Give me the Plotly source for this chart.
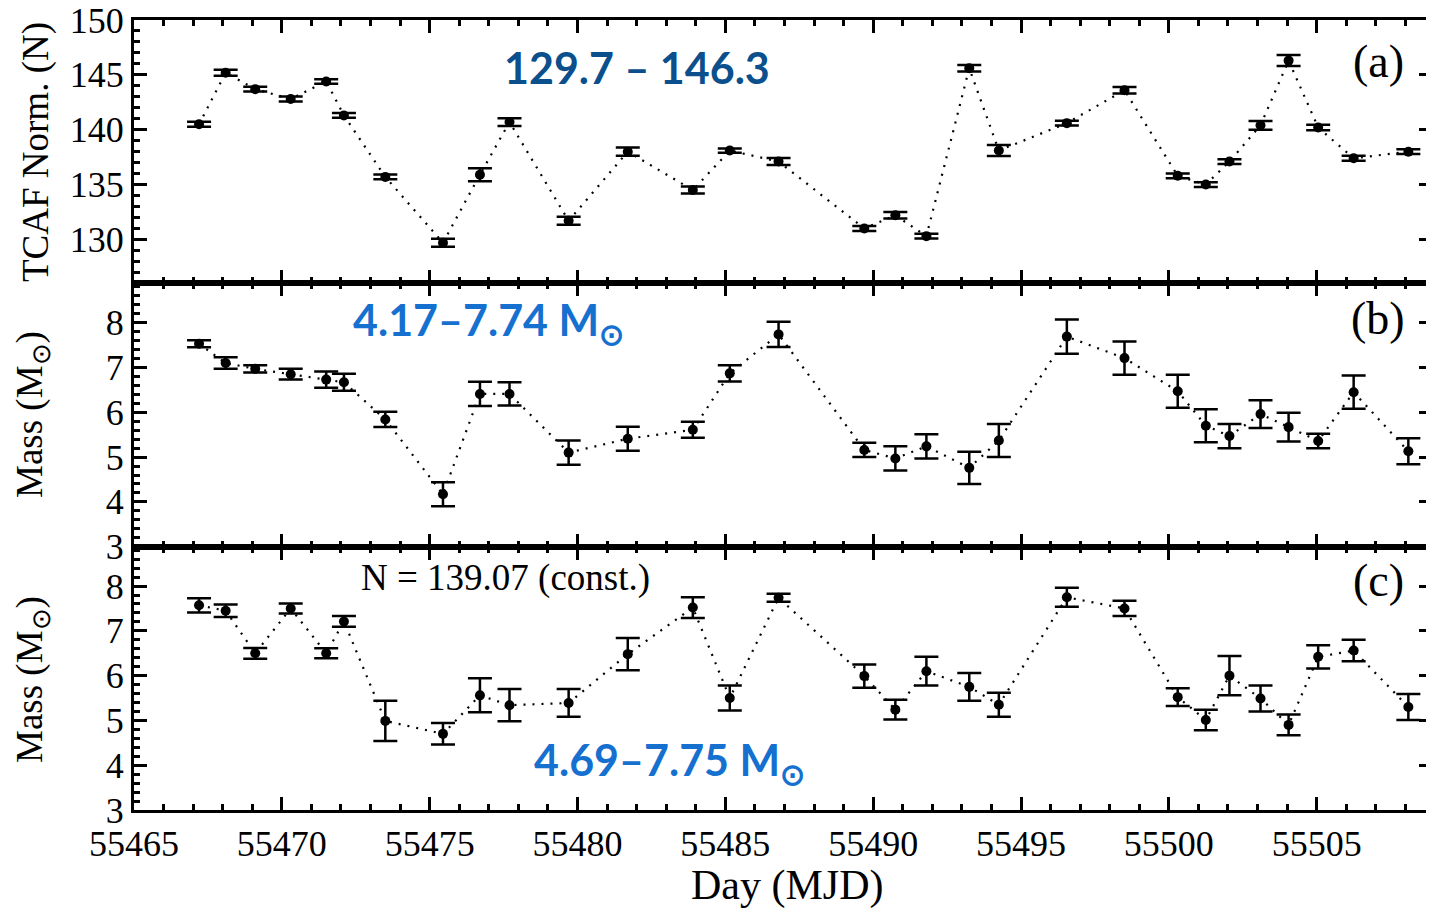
import plotly.graph_objects as go
from plotly.subplots import make_subplots

# ---------------- data ----------------
days = [55467.2, 55468.1, 55469.1, 55470.3, 55471.5, 55472.1, 55473.5, 55475.45,
        55476.7, 55477.7, 55479.7, 55481.7, 55483.9, 55485.15, 55486.8, 55489.7,
        55490.75, 55491.8, 55493.25, 55494.25, 55496.55, 55498.5, 55500.3, 55501.25,
        55502.05, 55503.1, 55504.05, 55505.05, 55506.25, 55508.1]

tcaf_norm = [140.5, 145.2, 143.7, 142.8, 144.4, 141.3, 135.7, 129.7, 135.9, 140.7,
             131.7, 138.0, 134.5, 138.1, 137.1, 131.0, 132.2, 130.3, 145.6, 138.1,
             140.6, 143.6, 135.8, 135.0, 137.1, 140.4, 146.3, 140.2, 137.4, 138.0]
tcaf_norm_err = [0.22, 0.27, 0.22, 0.22, 0.2, 0.22, 0.22, 0.37, 0.6, 0.35,
                 0.37, 0.37, 0.32, 0.2, 0.32, 0.22, 0.3, 0.22, 0.3, 0.5,
                 0.22, 0.3, 0.22, 0.22, 0.22, 0.4, 0.5, 0.25, 0.22, 0.22]

mass_var_n = [7.53, 7.10, 6.97, 6.85, 6.73, 6.67, 5.84, 4.17, 6.41, 6.41,
              5.10, 5.41, 5.61, 6.87, 7.74, 5.16, 4.97, 5.24, 4.76, 5.37,
              7.69, 7.21, 6.47, 5.70, 5.47, 5.96, 5.67, 5.36, 6.45, 5.13]
mass_var_n_err = [0.08, 0.13, 0.08, 0.12, 0.18, 0.19, 0.17, 0.27, 0.27, 0.26,
                  0.27, 0.27, 0.18, 0.18, 0.28, 0.16, 0.27, 0.27, 0.36, 0.37,
                  0.38, 0.37, 0.37, 0.37, 0.27, 0.31, 0.32, 0.16, 0.37, 0.29]

mass_const_n = [7.57, 7.45, 6.50, 7.50, 6.50, 7.21, 4.99, 4.70, 5.56, 5.34,
                5.39, 6.48, 7.52, 5.50, 7.74, 5.99, 5.24, 6.10, 5.75, 5.35,
                7.75, 7.50, 5.52, 5.01, 6.00, 5.49, 4.90, 6.42, 6.56, 5.30]
mass_const_n_err = [0.16, 0.14, 0.12, 0.11, 0.11, 0.12, 0.45, 0.24, 0.38, 0.36,
                    0.31, 0.36, 0.23, 0.28, 0.09, 0.26, 0.22, 0.32, 0.31, 0.27,
                    0.21, 0.17, 0.2, 0.23, 0.44, 0.29, 0.23, 0.26, 0.24, 0.29]

x_range = [55465, 55508.9]
serif = "Liberation Serif"
sans = "Lato"

fig = make_subplots(rows=3, cols=1, shared_xaxes=True, vertical_spacing=0)

series = [(tcaf_norm, tcaf_norm_err), (mass_var_n, mass_var_n_err),
          (mass_const_n, mass_const_n_err)]
for row, (vals, errs) in enumerate(series, start=1):
    fig.add_trace(go.Scatter(
        x=days, y=vals, mode="lines+markers",
        line=dict(color="black", width=2.2, dash="2px,7px"),
        marker=dict(color="black", size=10),
        error_y=dict(type="data", array=errs, visible=True, color="black",
                     thickness=2.5, width=12),
        showlegend=False), row=row, col=1)

axis_common = dict(showline=True, linewidth=3, linecolor="black", mirror="allticks",
                   ticks="inside", ticklen=13, tickwidth=3, tickcolor="black",
                   showgrid=False, zeroline=False, automargin=False,
                   ticklabeloverflow="allow",
                   tickfont=dict(family=serif, size=36, color="black"))

for row in (1, 2, 3):
    fig.update_xaxes(range=x_range, dtick=5, tick0=55465, tickformat="d",
                     minor=dict(dtick=1, ticks="inside", ticklen=6, tickwidth=2.5,
                                tickcolor="black", showgrid=False),
                     **axis_common, row=row, col=1)

fig.update_yaxes(range=[126, 150], dtick=5, tick0=130,
                 minor=dict(dtick=1, ticks="inside", ticklen=6, tickwidth=2.5,
                            tickcolor="black", showgrid=False),
                 **axis_common, row=1, col=1)
for row in (2, 3):
    fig.update_yaxes(range=[3, 8.88], dtick=1, tick0=3,
                     minor=dict(dtick=0.2, ticks="inside", ticklen=6, tickwidth=2.5,
                                tickcolor="black", showgrid=False),
                     **axis_common, row=row, col=1)

# the page body adds an 8px offset; size the figure so the plot lands where it should
OFF = 8
W, H = 1426, 902
ml, mr, mt, mb = 126, 2, 12, 100
pw, ph = W - ml - mr, H - mt - mb


def px(xp):
    return (xp - OFF - ml) / pw


def py(yp):
    return 1 - (yp - OFF - mt) / ph


annos = [
    dict(text="(a)", x=px(1378), y=py(62), font=dict(family=serif, size=46, color="black")),
    dict(text="(b)", x=px(1378), y=py(318), font=dict(family=serif, size=46, color="black")),
    dict(text="(c)", x=px(1378), y=py(580), font=dict(family=serif, size=46, color="black")),
    dict(text="<b>129.7 – 146.3</b>", x=px(637), y=py(68),
         font=dict(family=sans, size=43, color="#0b4f8c")),
    dict(text="<b>4.17–7.74 M<sub>⊙</sub></b>", x=px(488), y=py(322),
         font=dict(family=sans, size=43, color="#1570cf")),
    dict(text="N = 139.07 (const.)", x=px(505), y=py(578),
         font=dict(family=serif, size=37, color="black")),
    dict(text="<b>4.69–7.75 M<sub>⊙</sub></b>", x=px(669), y=py(762),
         font=dict(family=sans, size=43, color="#1570cf")),
    dict(text="TCAF Norm. (N)", x=px(36), y=py(152), textangle=-90,
         font=dict(family=serif, size=37, color="black")),
    dict(text="Mass (M<sub>⊙</sub>)", x=px(32), y=py(415), textangle=-90,
         font=dict(family=serif, size=37, color="black")),
    dict(text="Mass (M<sub>⊙</sub>)", x=px(32), y=py(680), textangle=-90,
         font=dict(family=serif, size=37, color="black")),
    dict(text="Day (MJD)", x=px(787), y=py(885),
         font=dict(family=serif, size=42, color="black")),
]
for a in annos:
    a.update(xref="paper", yref="paper", showarrow=False,
             xanchor="center", yanchor="middle")

fig.update_layout(width=W, height=H, margin=dict(l=ml, r=mr, t=mt, b=mb),
                  plot_bgcolor="white", paper_bgcolor="white",
                  annotations=annos, showlegend=False)

fig.write_html("out.html")
